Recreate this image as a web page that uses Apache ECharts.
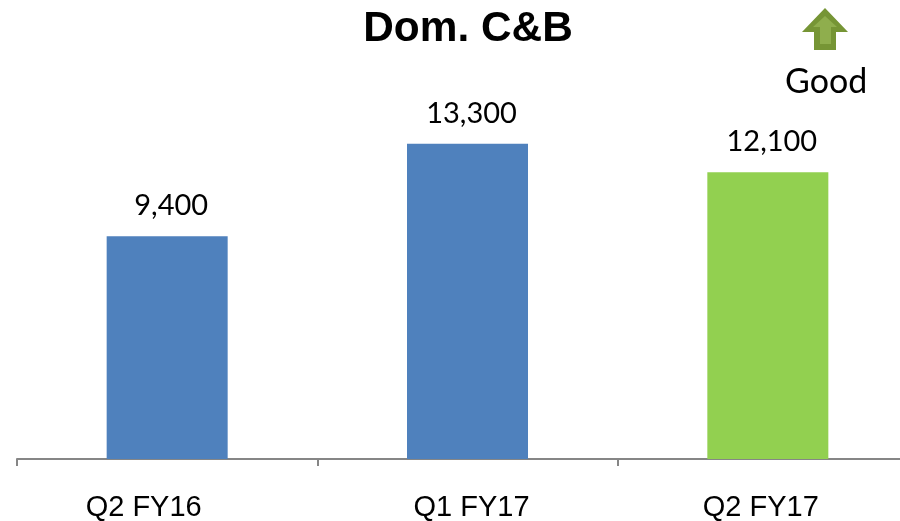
<!DOCTYPE html>
<html>
<head>
<meta charset="utf-8">
<style>
  html, body { margin: 0; padding: 0; background: #fff; }
  #chart { width: 900px; height: 521px; }
</style>
</head>
<body>
<div id="chart"></div>
<script src="https://cdn.jsdelivr.net/npm/echarts@6/dist/echarts.min.js"></script>
<script>
var categories = ["Q2 FY16", "Q1 FY17", "Q2 FY17"];
var values = [9400, 13300, 12100];
var barColors = ["#4f81bd", "#4f81bd", "#92d050"];
var labelStyles = ["a", "b", "c"];

var chart = echarts.init(document.getElementById("chart"));

var labelFont = { fontFamily: "Liberation Sans", fontSize: 29, color: "#000" };

var option = {
  animation: false,
  backgroundColor: "#fff",
  title: {
    text: "Dom. C&B",
    left: 463,
    top: 3,
    textAlign: "center",
    textStyle: { fontFamily: "Liberation Sans", fontSize: 42.4, fontWeight: "bold", color: "#000" }
  },
  // axis runs past the right edge of the picture, same as the original
  grid: { left: 17, top: 127.2, width: 901, height: 331.8, outerBoundsMode: "none" },
  xAxis: {
    type: "category",
    data: categories,
    axisLine: { lineStyle: { color: "#868686", width: 2 } },
    axisTick: { show: true, length: 7, alignWithLabel: false, lineStyle: { color: "#868686", width: 2 } },
    axisLabel: {
      margin: 34,
      // labels sit off centre in the original
      formatter: function (v, i) { return "{" + labelStyles[i] + "|" + v + "}"; },
      rich: {
        a: Object.assign({ padding: [0, 47, 0, 0] }, labelFont),
        b: Object.assign({ padding: [0, 0, 0, 8] }, labelFont),
        c: Object.assign({ padding: [0, 14, 0, 0] }, labelFont)
      }
    }
  },
  yAxis: { type: "value", min: 0, max: 14000, show: false },
  series: [{
    type: "bar",
    barWidth: 121,
    data: values.map(function (v, i) {
      return { value: v, itemStyle: { color: barColors[i] } };
    }),
    label: {
      show: true,
      position: "top",
      distance: 16,
      offset: [4, 0],
      formatter: function (p) { return p.value.toLocaleString("en-US"); },
      fontFamily: "Lato",
      fontSize: 29,
      color: "#000"
    }
  }],
  graphic: [
    {
      type: "polygon",
      shape: { points: [[825, 8], [848, 32], [836, 32], [836, 50], [814, 50], [814, 32], [802, 32]] },
      style: { fill: "#769535" }
    },
    {
      type: "polygon",
      shape: { points: [[825, 16], [837, 27], [831, 27], [831, 44], [820, 44], [820, 27], [813, 27]] },
      style: { fill: "#8fae4d" }
    },
    {
      type: "text",
      left: 785,
      top: 65,
      style: { text: "Good", font: "34px Lato", fill: "#000" }
    }
  ]
};

chart.setOption(option);
</script>
</body>
</html>
